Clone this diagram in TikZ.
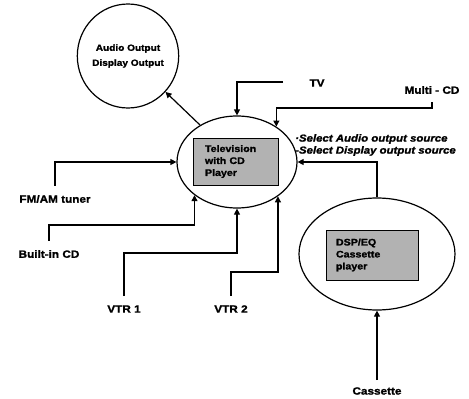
\documentclass[tikz,border=0pt]{standalone}
\usepackage{fontspec}
\setmainfont{Liberation Sans}
\newfontfamily\lblfont[FakeStretch=1.12, FakeBold=1.5]{Liberation Sans}
\usetikzlibrary{shapes.geometric,arrows.meta}
\begin{document}
\begin{tikzpicture}[x=1pt,y=-1pt,
  lbl/.style={font=\lblfont\bfseries\fontsize{10.5}{12}\selectfont, inner sep=1pt},
  sel/.style={font=\lblfont\bfseries\itshape\fontsize{10.2}{12}\selectfont, inner sep=0pt},
  arr/.style={line width=1.2pt, -{Triangle[length=6pt,width=6pt]}},
  oval/.style={draw, ellipse, line width=1.2pt, inner sep=0pt},
  box/.style={draw=black, line width=1pt, fill=gray!60, inner sep=0pt, align=left,
              font=\lblfont\bfseries\fontsize{9.5}{12}\selectfont}
]
\useasboundingbox (0,0) rectangle (469,399);

% ovals
\node[oval, minimum width=120pt, minimum height=92pt] (main) at (237,162) {};
\node[box, minimum width=85pt, minimum height=47pt, text width=61pt] (tvbox) at (235.5,161.5) {Television\\with CD\\Player};
\node[oval, minimum width=90pt, minimum height=104pt, align=center,
      font=\lblfont\bfseries\fontsize{9}{15}\selectfont] (audio) at (128,56) {Audio Output\\Display Output};
\node[oval, minimum width=156pt, minimum height=112pt] (cass) at (377,254) {};
\node[box, minimum width=92pt, minimum height=50pt, text width=72pt] (cassbox) at (372,255) {DSP/EQ\\Cassette\\player};

% labels
\node[lbl] (tv) at (317,83) {TV};
\node[lbl] (mcd) at (432,90) {Multi - CD};
\node[lbl] (fm) at (55,199) {FM/AM tuner};
\node[lbl] (bcd) at (49,254) {Built-in CD};
\node[lbl] (vtr1) at (124,309) {VTR 1};
\node[lbl] (vtr2) at (231,309) {VTR 2};
\node[lbl] (cassl) at (377,391) {Cassette};
\node[sel, anchor=west] (sel1) at (295,139) {·Select Audio output source};
\node[sel, anchor=west] (sel2) at (295,151) {-Select Display output source};
\coordinate (tvend) at (283,82);

% connectors
\draw[arr] (tvend) -| (main.north);
\draw[arr] ([yshift=-7pt]mcd.south) |- (main.42 |- 0,108) -- (main.42);
\draw[arr] ([yshift=8pt]fm.north) |- (main.west);
\draw[arr] ([yshift=8pt]bcd.north) |- (main.218 |- 0,225) -- (main.218);
\draw[arr] ([yshift=8pt]vtr1.north) |- (main.south |- 0,253) -- (main.south);
\draw[arr] ([yshift=8pt]vtr2.north) |- (main.320 |- 0,272) -- (main.320);
\draw[arr] (cass.north) |- (main.east);
\draw[arr] ([yshift=6pt]cassl.north) -- (cass.south);
\draw[arr] (main.135) -- (audio);
\end{tikzpicture}
\end{document}
